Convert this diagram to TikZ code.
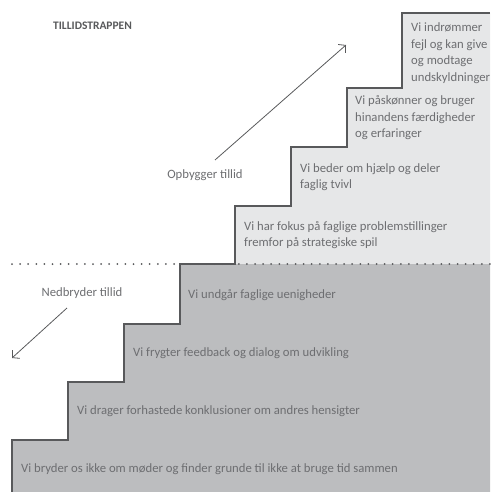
\documentclass[tikz,border=0pt]{standalone}
\usepackage{fontspec}
\setmainfont{Carlito}
\usetikzlibrary{arrows.meta}
\definecolor{lightg}{HTML}{E6E7E8}
\definecolor{darkg}{HTML}{BCBDBF}
\definecolor{lineg}{HTML}{58595B}
\definecolor{textg}{HTML}{6D6E71}
\tikzset{
  steptext/.style={anchor=west, align=left, inner sep=0pt, text=textg, font=\fontsize{12.7}{16.5}\selectfont},
  arrowlbl/.style={inner sep=0pt, text=textg, font=\fontsize{12.7}{14}\selectfont},
  trendarrow/.style={draw=lineg, line width=0.8pt, -{Straight Barb[length=5pt,width=11pt]}},
}
\begin{document}
\begin{tikzpicture}[x=1pt,y=-1pt]
\useasboundingbox (0,0) rectangle (490,492);
% stair polygon
\def\stairs{(12,492) -- (12,440) -- (68,440) -- (68,382) -- (124,382) -- (124,324) -- (180,324) -- (180,264) -- (235,264) -- (235,206) -- (291,206) -- (291,147) -- (347,147) -- (347,88) -- (402,88) -- (402,13) -- (490,13) -- (490,492) -- cycle}
\begin{scope}
  \clip (0,0) rectangle (490,264);
  \fill[lightg] \stairs;
\end{scope}
\begin{scope}
  \clip (0,264) rectangle (490,492);
  \fill[darkg] \stairs;
\end{scope}
\draw[lineg, line width=2.4pt] (12,492) -- (12,440) -- (68,440) -- (68,382) -- (124,382) -- (124,324) -- (180,324) -- (180,264) -- (235,264) -- (235,206) -- (291,206) -- (291,147) -- (347,147) -- (347,88) -- (402,88) -- (402,13) -- (490,13);
% dotted separator
\coordinate (dl) at (12,264);
\coordinate (dr) at (490,264);
\draw[lineg, line width=2pt, line cap=round, dash pattern=on 0pt off 8.1pt] (dl) -- (dr);
% title
\node[inner sep=0pt, text=lineg, font=\bfseries\fontsize{11.5}{13}\selectfont, anchor=west] (title) at (53,26) {TILLIDSTRAPPEN};
% arrows
\node[arrowlbl] (up) at (205,175) {Opbygger tillid};
\coordinate (upA) at (215,160);
\coordinate (upB) at (346,45);
\draw[trendarrow] (upA) -- (upB);
\node[arrowlbl] (down) at (82,293) {Nedbryder tillid};
\coordinate (dnA) at (67,308);
\coordinate (dnB) at (12,358);
\draw[trendarrow] (dnA) -- (dnB);
% step texts
\node[steptext] (s1) at (21,469) {Vi bryder os ikke om møder og finder grunde til ikke at bruge tid sammen};
\node[steptext] (s2) at (77,411) {Vi drager forhastede konklusioner om andres hensigter};
\node[steptext] (s3) at (133,353) {Vi frygter feedback og dialog om udvikling};
\node[steptext] (s4) at (188,295) {Vi undgår faglige uenigheder};
\node[steptext] (s5) at (244,235) {Vi har fokus på faglige problemstillinger\\fremfor på strategiske spil};
\node[steptext] (s6) at (300,177) {Vi beder om hjælp og deler\\faglig tvivl};
\node[steptext] (s7) at (355,118) {Vi påskønner og bruger\\hinandens færdigheder\\og erfaringer};
\node[steptext] (s8) at (411,53) {Vi indrømmer\\fejl og kan give\\og modtage\\undskyldninger};
\end{tikzpicture}
\end{document}
